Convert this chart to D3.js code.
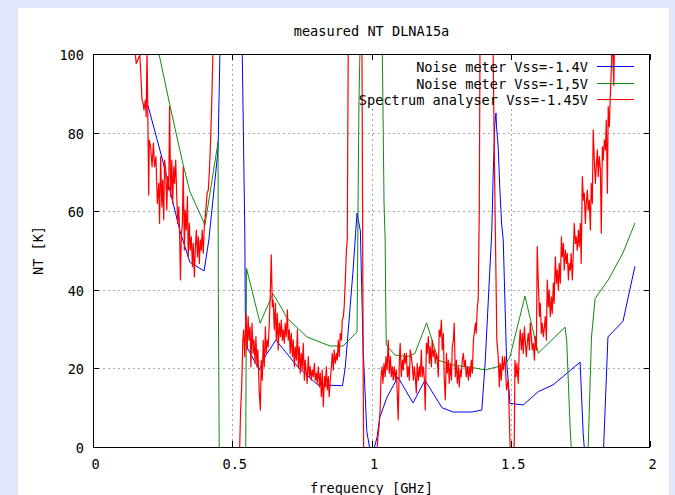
<!DOCTYPE html>
<html>
<head>
<meta charset="utf-8">
<script src="https://cdn.jsdelivr.net/npm/d3@7"></script>
<style>
  body { margin: 0; background: #e1e6fa; }
  svg { display: block; }
  text { font-family: 'DejaVu Sans Mono', 'Liberation Mono', monospace; font-size: 13.6px; fill: #000; }
</style>
</head>
<body>
<svg id="chart"></svg>
<script>
const title = 'measured NT DLNA15a';
const xLabel = 'frequency [GHz]';
const yLabel = 'NT [K]';
const xTicks = [0, 0.5, 1, 1.5, 2];
const yTicks = [0, 20, 40, 60, 80, 100];
const seriesNames = ['Noise meter Vss=-1.4V', 'Noise meter Vss=-1,5V', 'Spectrum analyser Vss=-1.45V'];
const seriesColors = ['#0000ff', '#108a10', '#ff0000'];

// [frequency GHz, NT K]
const noiseMeter14 = [
  [0.197, 87], [0.248, 73.5], [0.312, 55], [0.348, 47], [0.399, 44.8], [0.416, 52.7], [0.449, 75.6],
  [0.457, 105], [0.534, 110], [0.545, 55], [0.547, 34], [0.555, 25.1], [0.597, 19.6], [0.621, 23.4],
  [0.657, 27.2], [0.735, 20.4], [0.807, 15.8], [0.896, 15.6], [0.906, 20.4], [0.933, 44.2], [0.948, 59.5],
  [0.960, 55], [0.970, 25], [0.983, 4], [1.000, -3], [1.020, 2.5], [1.030, 7.6], [1.056, 12.7],
  [1.095, 17.8], [1.149, 11.2], [1.192, 17], [1.253, 10], [1.293, 8.9], [1.360, 8.9], [1.396, 9.4],
  [1.408, 21.3], [1.432, 55], [1.437, 69.7], [1.443, 82.4], [1.447, 85], [1.449, 81.4], [1.455, 76.3],
  [1.461, 65.4], [1.467, 57], [1.473, 52.7], [1.485, 22.1], [1.497, 11.1], [1.545, 10.7], [1.599, 14.1],
  [1.652, 15.8], [1.749, 21.6], [1.760, 3.5], [1.775, -10], [1.828, -10], [1.849, 28], [1.903, 32],
  [1.946, 46]
];

const noiseMeter15 = [
  [0.220, 110], [0.237, 100], [0.276, 87], [0.323, 72], [0.348, 65], [0.402, 56.5], [0.420, 64.6],
  [0.449, 77.6], [0.450, 39], [0.454, -10], [0.548, -10], [0.551, 45.5], [0.600, 31.5], [0.646, 39],
  [0.672, 36], [0.697, 32.8], [0.768, 28], [0.851, 25.7], [0.898, 25.7], [0.948, 29.3], [0.950, 45],
  [0.952, 64.6], [0.955, 87.8], [0.961, 110], [1.035, 110], [1.039, 100], [1.045, 62], [1.049, 52.7],
  [1.051, 37.4], [1.053, 26], [1.084, 23.4], [1.132, 23], [1.156, 23.8], [1.198, 31.6], [1.240, 22.1],
  [1.288, 20.9], [1.372, 20.1], [1.407, 19.6], [1.479, 20.9], [1.497, 22.9], [1.551, 38.4], [1.599, 23.9],
  [1.695, 30.5], [1.701, 27], [1.713, 5.2], [1.725, -10], [1.770, -10], [1.778, 0], [1.790, 28],
  [1.803, 37.8], [1.850, 42.5], [1.903, 49.4], [1.946, 57]
];

const spectrumAnalyser = [
  [0.150, 102], [0.155, 97.6], [0.168, 99.7], [0.171, 95.9], [0.176, 88.3], [0.180, 87.5], [0.183, 85.8],
  [0.188, 88.3], [0.191, 84.0], [0.194, 101], [0.196, 90.0], [0.200, 64.1], [0.202, 78.1], [0.207, 76.4],
  [0.212, 71.3], [0.217, 77.3], [0.221, 71.3], [0.226, 73.9], [0.231, 62.0], [0.236, 67.1], [0.239, 56.9],
  [0.243, 73.9], [0.247, 61.1], [0.250, 67.9], [0.254, 57.8], [0.257, 73.0], [0.261, 70.5], [0.265, 60.3],
  [0.268, 68.8], [0.272, 65.4], [0.275, 86.6], [0.279, 63.7], [0.283, 73.0], [0.286, 62.0], [0.290, 71.3],
  [0.293, 67.1], [0.297, 73.0], [0.300, 65.4], [0.304, 56.9], [0.308, 61.1], [0.311, 54.4], [0.314, 42.5],
  [0.317, 53.5], [0.321, 56.9], [0.324, 71.3], [0.328, 50.1], [0.331, 60.3], [0.335, 55.2], [0.339, 63.7],
  [0.342, 48.4], [0.346, 56.9], [0.349, 50.1], [0.353, 53.5], [0.357, 45.9], [0.360, 51.8], [0.364, 43.3],
  [0.367, 50.1], [0.371, 55.2], [0.375, 48.4], [0.378, 53.5], [0.382, 46.7], [0.385, 52.7], [0.389, 50.1],
  [0.392, 55.2], [0.396, 49.3], [0.400, 56.9], [0.403, 58.6], [0.407, 62.0], [0.410, 64.6], [0.414, 65.4],
  [0.418, 70.5], [0.421, 75.6], [0.425, 84.0], [0.428, 92.5], [0.432, 105],
  [0.515, -20], [0.526, -2], [0.530, 9.4], [0.534, 15.3], [0.538, 27.2], [0.541, 29.8], [0.545, 23.0],
  [0.549, 34.0], [0.553, 24.7], [0.557, 33.2], [0.560, 27.2], [0.564, 30.6], [0.567, 20.4], [0.571, 31.5],
  [0.575, 23.8], [0.578, 27.2], [0.582, 21.3], [0.585, 28.1], [0.589, 20.4], [0.592, 24.7], [0.597, 13.7],
  [0.601, 9.4], [0.604, 22.1], [0.608, 17.0], [0.611, 27.2], [0.615, 20.4], [0.619, 30.6], [0.622, 23.8],
  [0.626, 27.2], [0.629, 25.5], [0.633, 31.5], [0.637, 39.9], [0.640, 48.9], [0.644, 35.7], [0.647, 37.4],
  [0.651, 29.8], [0.655, 36.6], [0.658, 27.2], [0.662, 34.0], [0.665, 24.7], [0.669, 31.5], [0.673, 28.1],
  [0.676, 32.3], [0.680, 27.2], [0.683, 29.8], [0.687, 26.4], [0.690, 31.5], [0.694, 28.1], [0.698, 34.9],
  [0.701, 27.2], [0.705, 29.8], [0.708, 23.8], [0.712, 28.9], [0.716, 23.0], [0.719, 27.2], [0.723, 20.4],
  [0.726, 25.5], [0.730, 22.1], [0.734, 29.8], [0.737, 20.4], [0.741, 25.5], [0.744, 18.8], [0.748, 23.8],
  [0.751, 19.6], [0.755, 26.4], [0.759, 17.0], [0.762, 22.1], [0.766, 18.8], [0.769, 16.2], [0.773, 23.0],
  [0.777, 17.9], [0.780, 20.4], [0.784, 17.0], [0.787, 19.6], [0.791, 17.9], [0.795, 21.3], [0.798, 17.0],
  [0.802, 18.8], [0.805, 16.2], [0.809, 20.4], [0.813, 15.3], [0.816, 18.8], [0.820, 12.8], [0.823, 19.6],
  [0.827, 10.3], [0.831, 17.9], [0.834, 15.3], [0.838, 20.4], [0.841, 14.5], [0.845, 17.9], [0.848, 12.8],
  [0.852, 17.0], [0.856, 20.4], [0.859, 23.8], [0.863, 19.6], [0.866, 24.7], [0.870, 21.3], [0.874, 23.8],
  [0.877, 22.1], [0.881, 27.2], [0.884, 23.0], [0.888, 28.9], [0.892, 27.2], [0.895, 32.3], [0.899, 33.2],
  [0.902, 35.7], [0.906, 42.5], [0.910, 50.1], [0.913, 52.7], [0.917, 110],
  [0.965, 115], [0.968, 60], [0.970, 20], [0.973, -15],
  [1.016, -8], [1.022, 1.8], [1.027, 5.2], [1.031, 9.4], [1.034, 17.9], [1.038, 20.4], [1.041, 16.2],
  [1.045, 21.3], [1.049, 17.9], [1.052, 23.0], [1.056, 19.6], [1.060, 27.2], [1.064, 18.8], [1.068, 23.0],
  [1.071, 17.9], [1.075, 20.4], [1.078, 17.0], [1.082, 20.4], [1.086, 17.0], [1.089, 19.6], [1.093, 12.8],
  [1.096, 6.9], [1.100, 22.1], [1.103, 26.4], [1.107, 17.9], [1.111, 22.1], [1.114, 19.6], [1.118, 23.8],
  [1.121, 21.3], [1.125, 23.8], [1.129, 17.9], [1.132, 20.4], [1.136, 17.0], [1.139, 24.7], [1.143, 23.0],
  [1.147, 20.4], [1.150, 17.0], [1.154, 20.4], [1.157, 17.9], [1.161, 13.7], [1.164, 21.3], [1.168, 17.0],
  [1.172, 20.4], [1.175, 17.9], [1.179, 24.7], [1.182, 17.9], [1.186, 20.4], [1.190, 17.0], [1.193, 9.4],
  [1.197, 26.4], [1.200, 23.8], [1.204, 28.1], [1.208, 21.3], [1.211, 25.5], [1.215, 20.4], [1.218, 27.2],
  [1.222, 23.0], [1.226, 24.7], [1.229, 21.3], [1.233, 23.8], [1.236, 22.1], [1.240, 17.9], [1.243, 29.8],
  [1.247, 28.1], [1.251, 32.3], [1.254, 24.7], [1.258, 28.9], [1.261, 17.9], [1.265, 12.0], [1.269, 23.8],
  [1.272, 18.8], [1.276, 22.1], [1.279, 16.2], [1.283, 21.3], [1.287, 17.0], [1.290, 25.5], [1.294, 27.2],
  [1.297, 31.5], [1.301, 17.9], [1.305, 22.1], [1.308, 16.2], [1.312, 20.4], [1.315, 15.3], [1.319, 19.6],
  [1.322, 17.9], [1.326, 22.1], [1.330, 23.8], [1.333, 20.4], [1.337, 22.1], [1.340, 17.9], [1.344, 20.4],
  [1.348, 17.0], [1.351, 20.4], [1.355, 17.9], [1.358, 22.1], [1.362, 18.8], [1.366, 27.2], [1.369, 28.9],
  [1.373, 31.5], [1.376, 28.9], [1.380, 35.7], [1.383, 37.4], [1.387, 60], [1.390, 110],
  [1.435, 110], [1.443, 63.8], [1.448, 38], [1.450, 27.2], [1.455, 23.0], [1.459, 15.3], [1.462, 21.3],
  [1.466, 17.0], [1.470, 23.0], [1.473, 19.6], [1.479, 23.0], [1.485, 14.5], [1.491, 17.0], [1.497, 2],
  [1.500, -8], [1.510, -6], [1.513, 3], [1.515, 22.1], [1.519, 17.9], [1.522, 21.3], [1.527, 16.2],
  [1.531, 26.4], [1.534, 29.8], [1.538, 24.7], [1.542, 28.9], [1.545, 23.8], [1.549, 30.6], [1.552, 27.2],
  [1.556, 23.0], [1.559, 26.4], [1.563, 28.9], [1.567, 24.7], [1.570, 31.5], [1.574, 28.1], [1.577, 24.7],
  [1.581, 26.4], [1.585, 22.1], [1.588, 28.1], [1.592, 24.7], [1.595, 51.0], [1.599, 41.7], [1.603, 33.2],
  [1.606, 36.6], [1.610, 28.9], [1.613, 31.5], [1.617, 28.1], [1.621, 30.6], [1.624, 33.2], [1.628, 27.2],
  [1.631, 42.5], [1.635, 35.7], [1.638, 39.9], [1.642, 33.2], [1.646, 38.2], [1.649, 34.0], [1.653, 41.7],
  [1.656, 36.6], [1.660, 48.4], [1.664, 41.7], [1.667, 45.0], [1.671, 39.9], [1.674, 46.7], [1.678, 41.7],
  [1.682, 53.5], [1.685, 48.4], [1.689, 51.8], [1.692, 45.0], [1.696, 50.1], [1.700, 46.7], [1.703, 49.3],
  [1.707, 42.5], [1.710, 46.7], [1.714, 45.0], [1.717, 49.3], [1.721, 42.5], [1.725, 50.1], [1.728, 56.9],
  [1.732, 51.8], [1.735, 53.5], [1.739, 50.1], [1.743, 55.2], [1.746, 51.0], [1.750, 56.9], [1.753, 46.7],
  [1.757, 68.8], [1.761, 62.8], [1.764, 64.6], [1.768, 56.9], [1.771, 62.0], [1.775, 65.4], [1.778, 60.3],
  [1.782, 62.8], [1.786, 55.2], [1.789, 67.1], [1.793, 62.0], [1.796, 80.7], [1.800, 73.0], [1.804, 67.1],
  [1.807, 71.3], [1.811, 75.6], [1.814, 68.8], [1.818, 73.9], [1.822, 70.5], [1.825, 54.4], [1.829, 76.4],
  [1.832, 73.0], [1.836, 78.1], [1.840, 75.6], [1.843, 83.2], [1.847, 64.6], [1.850, 86.6], [1.854, 81.5],
  [1.857, 88.3], [1.861, 95.9], [1.865, 105], [1.870, 92], [1.874, 112]
];

const series = [noiseMeter14, noiseMeter15, spectrumAnalyser];

const width = 675;
const height = 495;
const margin = { top: 54, right: 25, bottom: 48, left: 93 };
const innerWidth = width - margin.left - margin.right;
const innerHeight = height - margin.top - margin.bottom;

const x = d3.scaleLinear().domain([0, 2]).range([margin.left, margin.left + innerWidth]);
const y = d3.scaleLinear().domain([0, 100]).range([margin.top + innerHeight, margin.top]);

const svg = d3.select('#chart')
  .attr('width', width)
  .attr('height', height);

svg.append('rect')
  .attr('x', 18).attr('y', 8)
  .attr('width', 651).attr('height', 487)
  .attr('fill', '#fff');

svg.append('clipPath').attr('id', 'plot-clip')
  .append('rect')
  .attr('x', margin.left).attr('y', margin.top)
  .attr('width', innerWidth).attr('height', innerHeight);

// grid
const grid = svg.append('g')
  .attr('stroke', '#a8a8a8')
  .attr('stroke-dasharray', '2,3')
  .attr('shape-rendering', 'crispEdges');
grid.selectAll('line.gx')
  .data(xTicks.slice(1, -1))
  .enter().append('line')
  .attr('x1', (d) => Math.round(x(d)) + 0.5).attr('x2', (d) => Math.round(x(d)) + 0.5)
  .attr('y1', margin.top).attr('y2', margin.top + innerHeight);
grid.selectAll('line.gy')
  .data(yTicks.slice(1, -1))
  .enter().append('line')
  .attr('x1', margin.left).attr('x2', margin.left + innerWidth)
  .attr('y1', (d) => Math.round(y(d)) + 0.5).attr('y2', (d) => Math.round(y(d)) + 0.5);

// key area is kept clear of grid
svg.append('rect')
  .attr('x', 353).attr('y', margin.top + 1)
  .attr('width', 292).attr('height', 52)
  .attr('fill', '#fff');

// ticks (inward, mirrored)
const axisBottom = d3.axisBottom(x).tickValues(xTicks).tickSize(-6).tickFormat((d) => d3.format('')(d)).tickPadding(12);
const axisTop = d3.axisTop(x).tickValues(xTicks).tickSize(-6);
const axisLeft = d3.axisLeft(y).tickValues(yTicks).tickSize(-6).tickPadding(9);
const axisRight = d3.axisRight(y).tickValues(yTicks).tickSize(-6);

const gB = svg.append('g').attr('transform', `translate(0, ${ margin.top + innerHeight })`).call(axisBottom);
const gT = svg.append('g').attr('transform', `translate(0, ${ margin.top })`).call(axisTop);
const gL = svg.append('g').attr('transform', `translate(${ margin.left }, 0)`).call(axisLeft);
const gR = svg.append('g').attr('transform', `translate(${ margin.left + innerWidth }, 0)`).call(axisRight);

[gB, gT, gL, gR].forEach((g) => {
  g.select('.domain').remove();
  g.selectAll('line').attr('stroke', '#000').attr('shape-rendering', 'crispEdges');
  g.selectAll('text').attr('font-family', null).attr('font-size', null).attr('fill', '#000');
});
gT.selectAll('text').remove();
gR.selectAll('text').remove();
gB.selectAll('text').attr('dx', 2);
gL.selectAll('text').attr('dy', '0.4em');

// gnuplot style: a segment with both ends out of range is not drawn
const inRange = (d) => d[1] >= 0 && d[1] <= 100;
function runs(data) {
  const out = [];
  let cur = null;
  for (let i = 1; i < data.length; i++) {
    const a = data[i - 1];
    const b = data[i];
    if (inRange(a) || inRange(b)) {
      if (!cur) {
        cur = [a];
        out.push(cur);
      }
      cur.push(b);
    } else {
      cur = null;
    }
  }
  return out;
}

const line = d3.line()
  .x((d) => x(d[0]))
  .y((d) => y(d[1]));

const plot = svg.append('g').attr('clip-path', 'url(#plot-clip)');
series.forEach((data, i) => {
  plot.append('g')
    .selectAll('path')
    .data(runs(data))
    .enter().append('path')
    .attr('d', line)
    .attr('fill', 'none')
    .attr('stroke', seriesColors[i])
    .attr('stroke-width', i === 2 ? 1.2 : 1)
    .attr('stroke-linejoin', 'round');
});

// border
svg.append('rect')
  .attr('x', margin.left + 0.5).attr('y', margin.top + 0.5)
  .attr('width', innerWidth - 1).attr('height', innerHeight)
  .attr('fill', 'none')
  .attr('stroke', '#000')
  .attr('shape-rendering', 'crispEdges');

// key
const key = svg.append('g');
seriesNames.forEach((name, i) => {
  const ky = Math.round(66 + i * 16.7) + 0.5;
  key.append('line')
    .attr('x1', 597).attr('x2', 634)
    .attr('y1', ky).attr('y2', ky)
    .attr('stroke', seriesColors[i])
    .attr('stroke-width', 1.2);
  key.append('text')
    .attr('x', 588).attr('y', ky + 5)
    .attr('text-anchor', 'end')
    .text(name);
});

// labels
svg.append('text')
  .attr('x', margin.left + innerWidth / 2).attr('y', 36)
  .attr('text-anchor', 'middle')
  .text(title);

svg.append('text')
  .attr('x', margin.left + innerWidth / 2).attr('y', 493)
  .attr('text-anchor', 'middle')
  .text(xLabel);

svg.append('text')
  .attr('transform', `translate(43, ${ margin.top + innerHeight / 2 }) rotate(-90)`)
  .attr('text-anchor', 'middle')
  .text(yLabel);
</script>
</body>
</html>
